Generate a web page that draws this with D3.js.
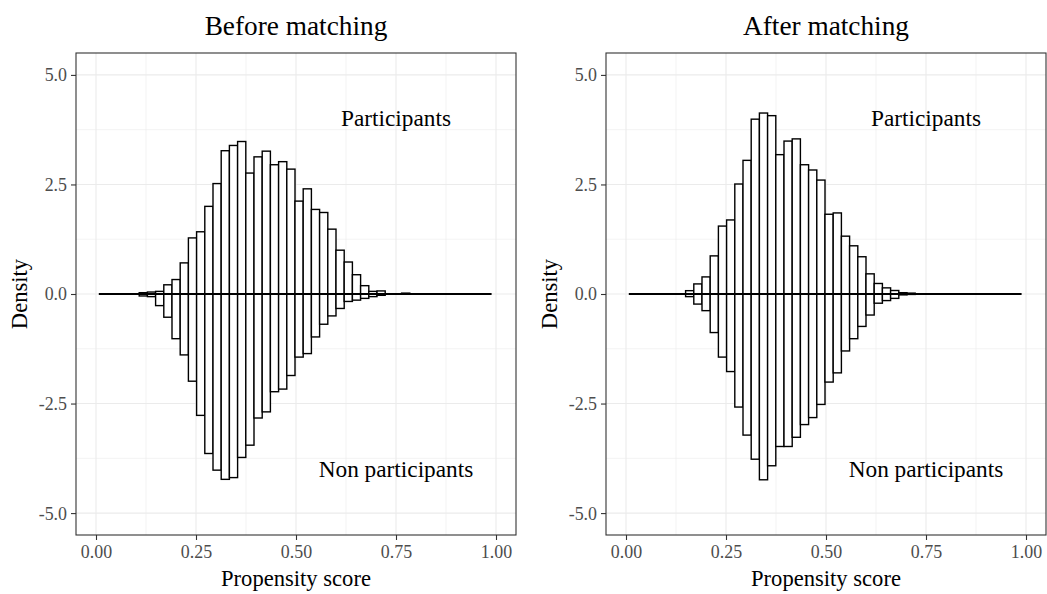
<!DOCTYPE html>
<html>
<head>
<meta charset="utf-8">
<script src="https://cdn.jsdelivr.net/npm/d3@7"></script>
<style>
  html, body { margin: 0; padding: 0; background: #fff; }
  svg { display: block; font-family: "Liberation Serif", "Times New Roman", serif; }
</style>
</head>
<body>
<svg id="chart" width="1047" height="594"></svg>
<script>
// Histogram bin edges (propensity score)
const binEdges = [0.1080, 0.1285, 0.1490, 0.1695, 0.1900, 0.2105, 0.2310, 0.2515, 0.2720, 0.2925,
  0.3130, 0.3335, 0.3540, 0.3745, 0.3950, 0.4155, 0.4360, 0.4565, 0.4770, 0.4975,
  0.5180, 0.5385, 0.5590, 0.5795, 0.6000, 0.6205, 0.6410, 0.6615, 0.6820, 0.7025,
  0.7230, 0.7435, 0.7640, 0.7845];

// Densities per bin
const beforeParticipants = [0.03, 0.045, 0.06, 0.21, 0.33, 0.71, 1.28, 1.42, 2.00, 2.52,
  3.27, 3.39, 3.48, 2.76, 3.13, 3.26, 2.95, 3.02, 2.85, 2.12,
  2.40, 1.93, 1.86, 1.48, 1.00, 0.73, 0.44, 0.19, 0.06, 0.07,
  0, 0, 0.02];
const beforeNonParticipants = [0.045, 0.06, 0.265, 0.53, 1.02, 1.39, 1.99, 2.77, 3.64, 4.02,
  4.23, 4.19, 3.73, 3.45, 2.83, 2.69, 2.23, 2.17, 1.86, 1.44,
  1.36, 0.98, 0.69, 0.50, 0.33, 0.17, 0.14, 0.10, 0.06, 0.03,
  0, 0, 0];
const afterParticipants = [0, 0, 0.076, 0.23, 0.39, 0.87, 1.55, 1.69, 2.51, 3.05,
  3.99, 4.13, 4.07, 3.18, 3.49, 3.54, 2.95, 2.83, 2.60, 1.82,
  1.85, 1.32, 1.10, 0.85, 0.46, 0.24, 0.14, 0.08, 0.03, 0.02,
  0, 0, 0];
const afterNonParticipants = [0, 0, 0.06, 0.23, 0.38, 0.88, 1.44, 1.77, 2.58, 3.22,
  3.77, 4.24, 3.92, 3.48, 3.48, 3.27, 2.98, 2.82, 2.52, 2.01,
  1.80, 1.30, 1.02, 0.74, 0.48, 0.21, 0.15, 0.10, 0.02, 0.01,
  0, 0, 0];

// Range of observed propensity scores (baseline segment)
const scoreRange = [0.007, 0.989];

const titles = ["Before matching", "After matching"];
const xTicks = [0, 0.25, 0.5, 0.75, 1.0];
const yTicks = [-5, -2.5, 0, 2.5, 5];
const xMinor = [0.125, 0.375, 0.625, 0.875];
const yMinor = [-3.75, -1.25, 1.25, 3.75];
const labelTop = { text: "Participants", x: 0.75, y: 4 };
const labelBottom = { text: "Non participants", x: 0.75, y: -4 };

const svg = d3.select("#chart");

const panels = [
  { title: titles[0], pos: beforeParticipants, neg: beforeNonParticipants, left: 76 },
  { title: titles[1], pos: afterParticipants, neg: afterNonParticipants, left: 606 }
];

const panelW = 440, panelTop = 53, panelBottom = 535;
// plain hyphen for negative numbers
const fmtY = v => d3.format(".1f")(v).replace("\u2212", "-");

panels.forEach(p => {
  const x = d3.scaleLinear().domain([-0.05, 1.05]).range([p.left, p.left + panelW]);
  const y = d3.scaleLinear().domain([-5.5, 5.5]).range([panelBottom, panelTop]);
  const g = svg.append("g");

  // grid
  g.selectAll(".minx").data(xMinor).join("line")
    .attr("x1", d => x(d)).attr("x2", d => x(d)).attr("y1", panelTop).attr("y2", panelBottom)
    .attr("stroke", "#EBEBEB").attr("stroke-width", 0.6);
  g.selectAll(".miny").data(yMinor).join("line")
    .attr("x1", p.left).attr("x2", p.left + panelW).attr("y1", d => y(d)).attr("y2", d => y(d))
    .attr("stroke", "#EBEBEB").attr("stroke-width", 0.6);
  g.selectAll(".majx").data(xTicks).join("line")
    .attr("x1", d => x(d)).attr("x2", d => x(d)).attr("y1", panelTop).attr("y2", panelBottom)
    .attr("stroke", "#EBEBEB").attr("stroke-width", 1.1);
  g.selectAll(".majy").data(yTicks).join("line")
    .attr("x1", p.left).attr("x2", p.left + panelW).attr("y1", d => y(d)).attr("y2", d => y(d))
    .attr("stroke", "#EBEBEB").attr("stroke-width", 1.1);

  // bars
  const bars = (vals, sign) => vals
    .map((v, i) => ({ x0: binEdges[i], x1: binEdges[i + 1], v: v * sign }))
    .filter(d => d.v !== 0);

  g.selectAll(".pos").data(bars(p.pos, 1)).join("rect")
    .attr("x", d => x(d.x0)).attr("width", d => x(d.x1) - x(d.x0))
    .attr("y", d => y(d.v)).attr("height", d => y(0) - y(d.v))
    .attr("fill", "#fff").attr("stroke", "#000").attr("stroke-width", 1.4);
  g.selectAll(".neg").data(bars(p.neg, -1)).join("rect")
    .attr("x", d => x(d.x0)).attr("width", d => x(d.x1) - x(d.x0))
    .attr("y", y(0)).attr("height", d => y(d.v) - y(0))
    .attr("fill", "#fff").attr("stroke", "#000").attr("stroke-width", 1.4);

  // baseline segment
  g.append("line")
    .attr("x1", x(scoreRange[0])).attr("x2", x(scoreRange[1]))
    .attr("y1", y(0)).attr("y2", y(0))
    .attr("stroke", "#000").attr("stroke-width", 1.8);

  // annotations
  [labelTop, labelBottom].forEach(l => {
    g.append("text").attr("x", x(l.x)).attr("y", y(l.y))
      .attr("text-anchor", "middle").attr("dy", "0.32em")
      .attr("font-size", 23.3).attr("fill", "#000").text(l.text);
  });

  // panel border
  g.append("rect").attr("x", p.left).attr("y", panelTop).attr("width", panelW).attr("height", panelBottom - panelTop)
    .attr("fill", "none").attr("stroke", "#333333").attr("stroke-width", 1.1);

  // axes
  const xAxis = g.append("g").attr("transform", `translate(0,${panelBottom})`)
    .call(d3.axisBottom(x).tickValues(xTicks).tickFormat(d3.format(".2f")).tickSize(5).tickPadding(4));
  const yAxis = g.append("g").attr("transform", `translate(${p.left},0)`)
    .call(d3.axisLeft(y).tickValues(yTicks).tickFormat(fmtY).tickSize(5).tickPadding(4));
  [xAxis, yAxis].forEach(a => {
    a.select(".domain").remove();
    a.selectAll(".tick line").attr("stroke", "#333333").attr("stroke-width", 1.1);
    a.selectAll(".tick text").attr("fill", "#4D4D4D").attr("font-size", 17.9)
      .attr("font-family", "Liberation Serif, Times New Roman, serif");
  });
  xAxis.selectAll(".tick text").attr("dy", null).attr("y", 23);
  yAxis.selectAll(".tick text").attr("dy", "0.33em");

  // titles
  g.append("text").attr("x", p.left + panelW / 2).attr("y", 34.5)
    .attr("text-anchor", "middle").attr("font-size", 27.3).text(p.title);
  g.append("text").attr("x", p.left + panelW / 2).attr("y", 585.5)
    .attr("text-anchor", "middle").attr("font-size", 22.6).text("Propensity score");
  g.append("text")
    .attr("transform", `translate(${p.left - 49},${y(0)}) rotate(-90)`)
    .attr("text-anchor", "middle").attr("font-size", 22.6).text("Density");
});
</script>
</body>
</html>
